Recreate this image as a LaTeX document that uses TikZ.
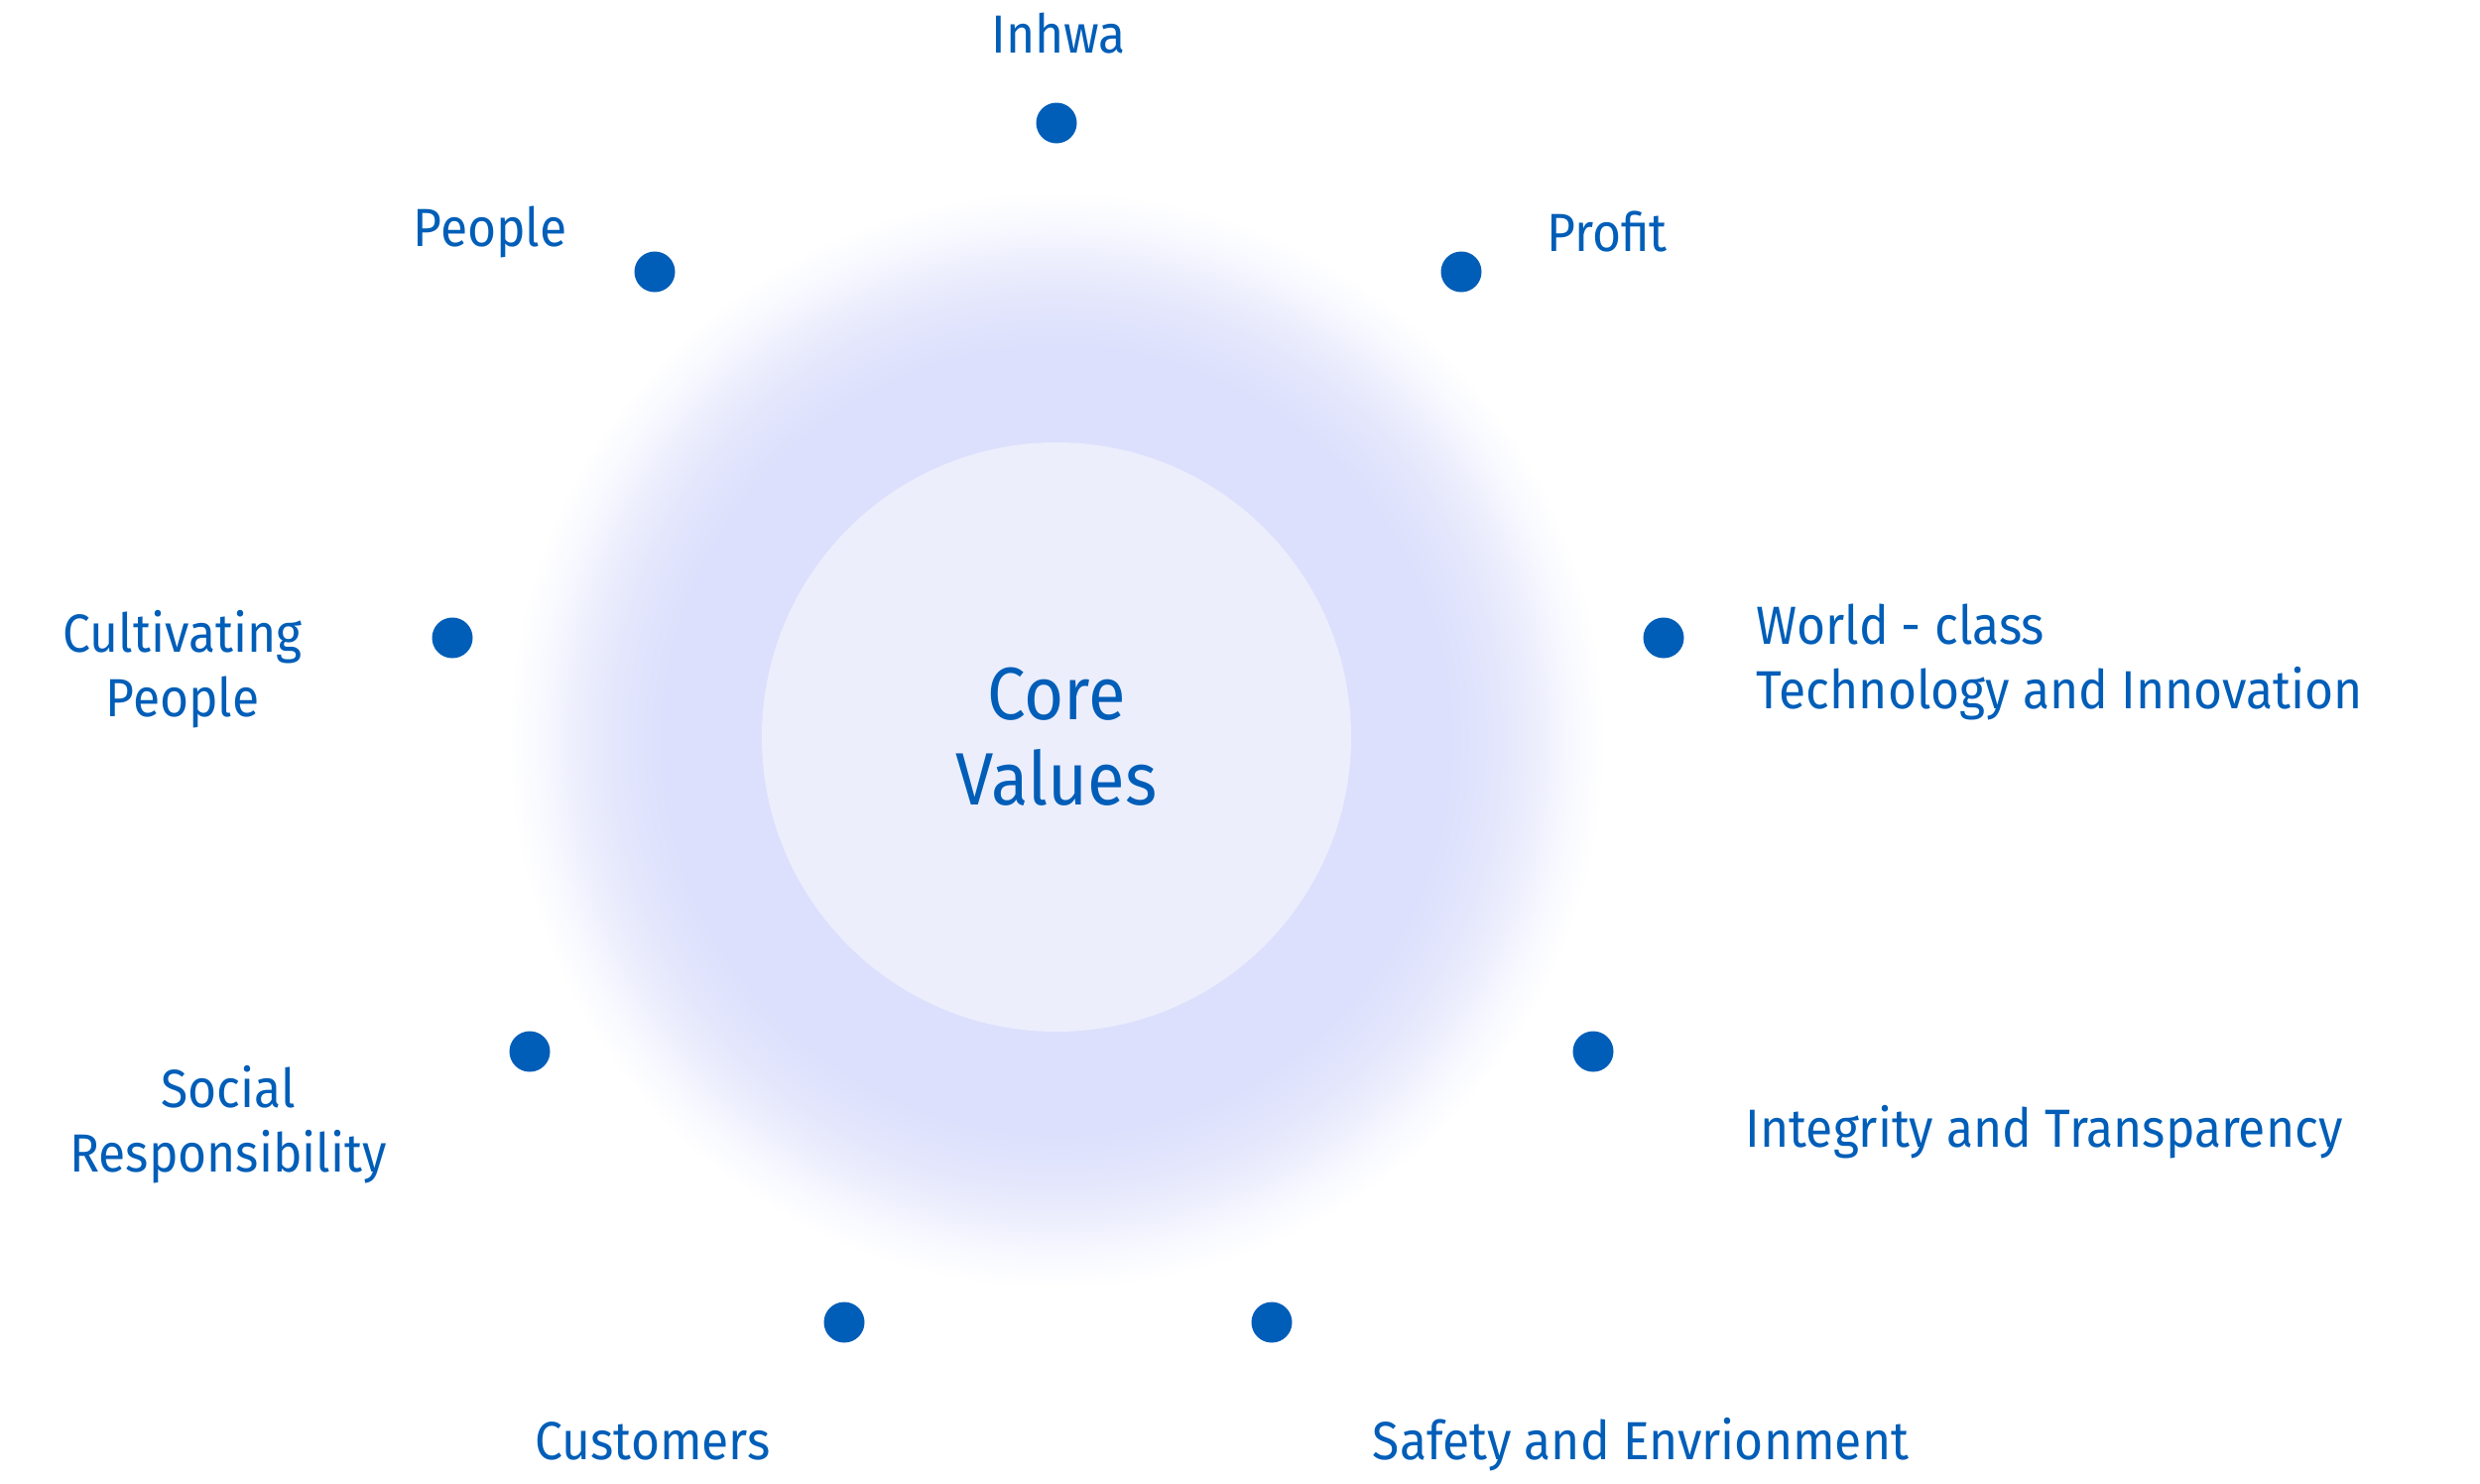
\documentclass[tikz,border=0pt]{standalone}
\usepackage{fontspec}
\setmainfont{Fira Sans}[FakeStretch=0.92]
\definecolor{tblue}{HTML}{005EB8}
\definecolor{glowc}{HTML}{DCE0FC}
\definecolor{glowa}{HTML}{E3E6FC}
\definecolor{glowm}{HTML}{EEF0FD}
\definecolor{glowb}{HTML}{F8F9FF}
\definecolor{innerc}{HTML}{ECEEFC}
\pgfdeclareradialshading{glow}{\pgfpoint{0bp}{0bp}}{color(0bp)=(glowc); color(17.7bp)=(glowc); color(19.8bp)=(glowa); color(21.9bp)=(glowm); color(23.2bp)=(glowb); color(24.7bp)=(white); color(50bp)=(white)}
\begin{document}
\begin{tikzpicture}[x=1cm,y=1cm,
  dot/.style={circle, fill=tblue, inner sep=0pt, minimum size=0.41cm},
  lbl/.style={text=tblue, font=\fontsize{15.4}{18.4}\selectfont, inner sep=0pt},
  corelbl/.style={circle, fill=innerc, minimum size=5.94cm, inner sep=0pt, text=tblue, align=center, font=\fontsize{21.3}{24.5}\selectfont}]
\useasboundingbox (0,0) rectangle (25,-14.95);
\fill[white] (0,0) rectangle (25,-14.95);
\shade[shading=glow] (10.65,-7.46) circle (5.6);
\node[corelbl] (core) at (10.65,-7.43) {Core\\Values};
% dots
\node[dot] (dinhwa) at (10.65,-1.24) {};
\node[dot] (dpeople) at (6.60,-2.74) {};
\node[dot] (dprofit) at (14.73,-2.74) {};
\node[dot] (dcult) at (4.56,-6.43) {};
\node[dot] (dworld) at (16.77,-6.43) {};
\node[dot] (dsocial) at (5.34,-10.60) {};
\node[dot] (dinteg) at (16.06,-10.60) {};
\node[dot] (dcust) at (8.51,-13.33) {};
\node[dot] (dsafety) at (12.82,-13.33) {};
% labels
\node[lbl, anchor=base] (linhwa) at (10.67,-0.53) {Inhwa};
\node[lbl, anchor=base] (lpeople) at (4.94,-2.48) {People};
\node[lbl, anchor=base] (lprofit) at (16.20,-2.53) {Profit};
\node[lbl, anchor=base, align=center] (lcult) at (1.84,-7.22) {Cultivating\\People};
\node[lbl, anchor=base west, align=left] (lworld) at (17.70,-7.14) {World - class\\Technology and Innovation};
\node[lbl, anchor=base, align=center] (lsocial) at (2.30,-11.81) {Social\\Responsibility};
\node[lbl, anchor=base west] (linteg) at (17.59,-11.56) {Integrity and Transparency};
\node[lbl, anchor=base] (lcust) at (6.58,-14.71) {Customers};
\node[lbl, anchor=base] (lsafety) at (16.54,-14.71) {Safety and Envrionment};
\end{tikzpicture}
\end{document}
